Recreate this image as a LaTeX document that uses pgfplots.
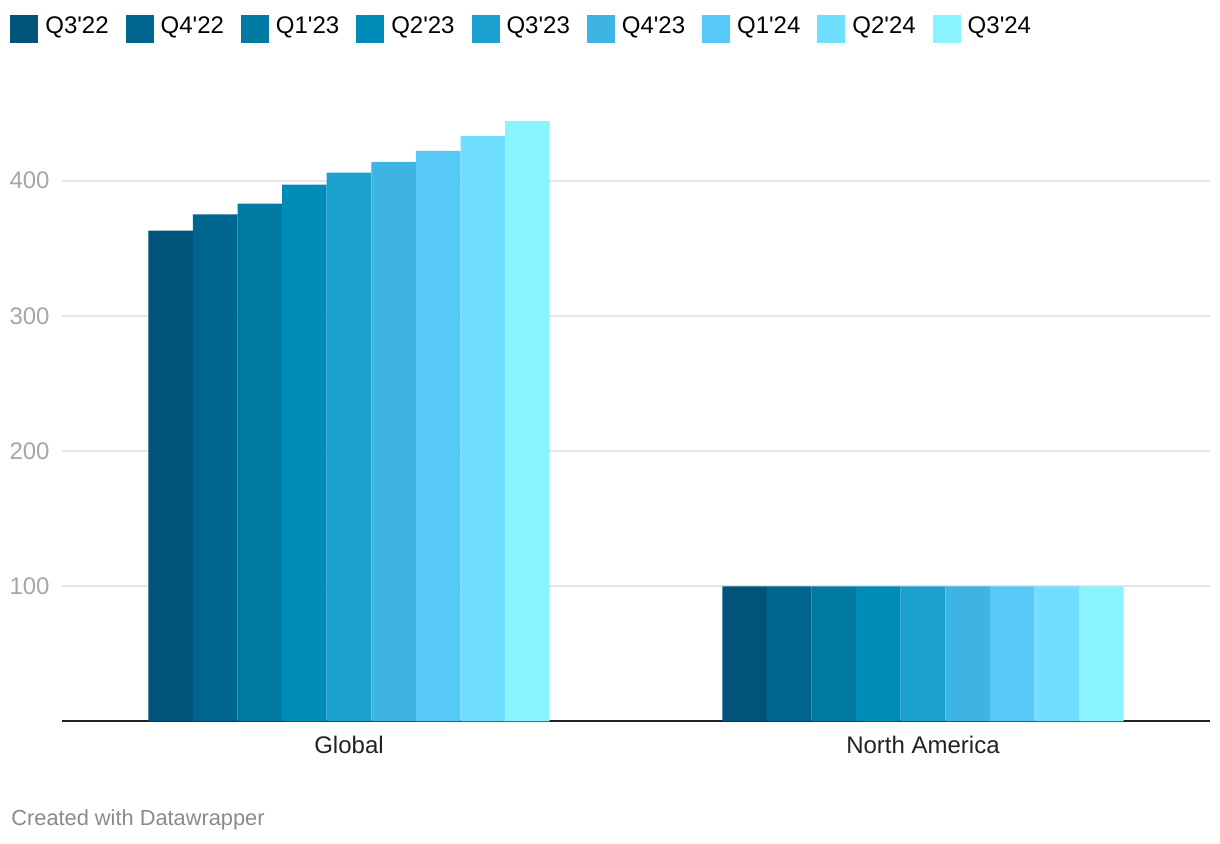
\documentclass[border=0pt]{standalone}
\usepackage{pgfplots}
\pgfplotsset{compat=1.18}
\usepackage{fontspec}
\setmainfont{Liberation Sans}
\definecolor{c1}{HTML}{005479}
\definecolor{c2}{HTML}{00668F}
\definecolor{c3}{HTML}{0079A3}
\definecolor{c4}{HTML}{008CB8}
\definecolor{c5}{HTML}{1BA1CF}
\definecolor{c6}{HTML}{3DB4E2}
\definecolor{c7}{HTML}{57C9F6}
\definecolor{c8}{HTML}{70DEFF}
\definecolor{c9}{HTML}{89F4FF}
\definecolor{gridgray}{HTML}{E5E5E5}
\definecolor{ytickgray}{HTML}{A6A6A6}
\definecolor{labelblack}{HTML}{222222}
\definecolor{creditgray}{HTML}{8A8A8A}
\begin{document}
\begin{tikzpicture}[x=1pt,y=1pt]
\useasboundingbox (-31,-61.25) rectangle (579,360.75);
\begin{axis}[
  at={(0,0)}, anchor=south west,
  scale only axis, width=574pt, height=304.2pt,
  xmin=-0.5, xmax=1.5, ymin=0, ymax=450,
  ybar=0pt, bar width=0.0777,
  xtick={0,1}, xticklabels={Global,North America},
  ytick={100,200,300,400},
  ymajorgrids, grid style={draw=gridgray, line width=1pt},
  major tick length=0pt,
  axis x line*=bottom, axis y line*=left,
  y axis line style={draw=none},
  x axis line style={line width=1pt, labelblack},
  tick label style={font=\fontsize{12}{14}\selectfont, inner sep=0pt},
  xticklabel style={text=labelblack},
  yticklabel style={text=ytickgray},
  xticklabel shift=7pt, yticklabel shift=6pt,
  /pgf/number format/assume math mode=true,
  legend columns=9,
  legend style={at={(-0.0453,1.162)}, anchor=north west, draw=none, fill=none,
    inner sep=0pt, font=\fontsize{12}{14}\selectfont,
    nodes={inner sep=0pt},
    /tikz/every odd column/.append style={column sep=3.5pt},
    /tikz/every even column/.append style={column sep=8.5pt}},
  legend image code/.code={\fill[#1] (0pt,-8.1pt) rectangle (14pt,5.9pt);},
]
\addplot[draw=none, fill=c1] coordinates {(0,363) (1,100)};
\addplot[draw=none, fill=c2] coordinates {(0,375) (1,100)};
\addplot[draw=none, fill=c3] coordinates {(0,383) (1,100)};
\addplot[draw=none, fill=c4] coordinates {(0,397) (1,100)};
\addplot[draw=none, fill=c5] coordinates {(0,406) (1,100)};
\addplot[draw=none, fill=c6] coordinates {(0,414) (1,100)};
\addplot[draw=none, fill=c7] coordinates {(0,422) (1,100)};
\addplot[draw=none, fill=c8] coordinates {(0,433) (1,100)};
\addplot[draw=none, fill=c9] coordinates {(0,444) (1,100)};
\legend{Q3\textquotesingle22,Q4\textquotesingle22,Q1\textquotesingle23,Q2\textquotesingle23,Q3\textquotesingle23,Q4\textquotesingle23,Q1\textquotesingle24,Q2\textquotesingle24,Q3\textquotesingle24}
\end{axis}
\node[anchor=base west, text=creditgray, font=\fontsize{10.9}{13}\selectfont, inner sep=0pt] at (-25.5,-52.25) {Created with Datawrapper};
\end{tikzpicture}
\end{document}
